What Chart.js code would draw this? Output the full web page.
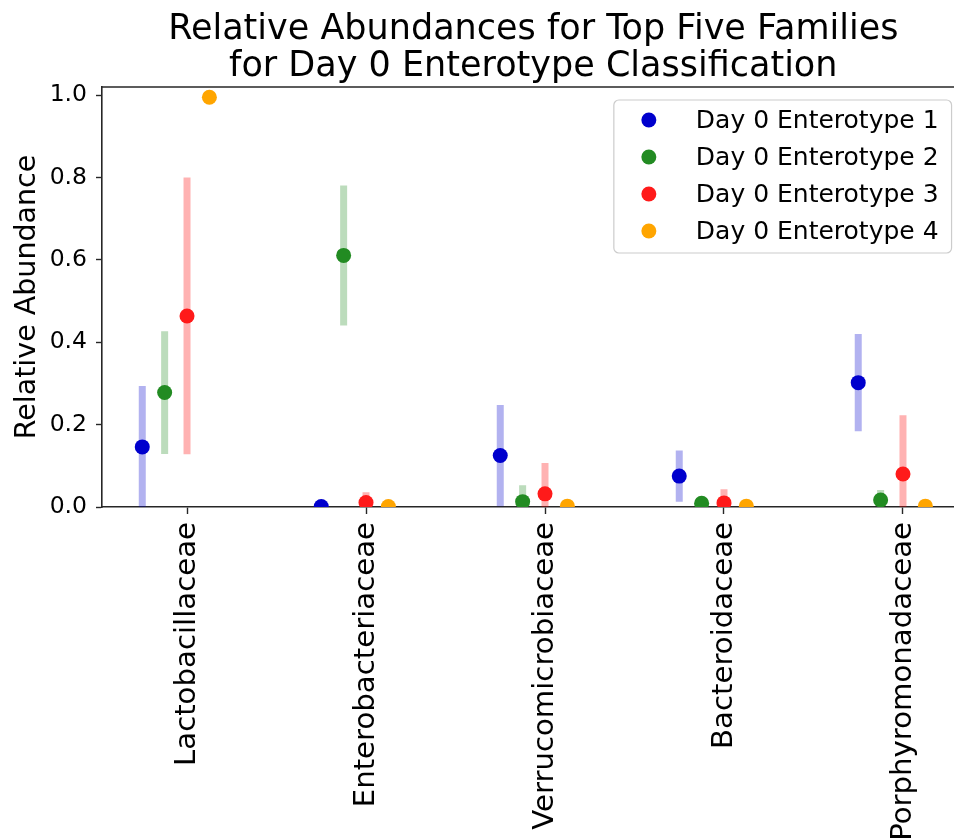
<!DOCTYPE html>
<html>
<head>
<meta charset="utf-8">
<script src="https://cdn.jsdelivr.net/npm/chart.js@4/dist/chart.umd.min.js"></script>
<style>
  html, body { margin: 0; padding: 0; overflow: hidden; background: #fff; }
  canvas { display: block; }
</style>
</head>
<body>
<canvas id="chart" width="954" height="839"></canvas>
<script>
// Families on the x axis
const categories = ['Lactobacillaceae', 'Enterobacteriaceae', 'Verrucomicrobiaceae', 'Bacteroidaceae', 'Porphyromonadaceae'];
const seriesNames = ['Day 0 Enterotype 1', 'Day 0 Enterotype 2', 'Day 0 Enterotype 3', 'Day 0 Enterotype 4'];

// Mean relative abundance per family, one list per enterotype
const meanType1 = [0.146, 0.001, 0.125, 0.075, 0.302];
const meanType2 = [0.278, 0.611, 0.013, 0.009, 0.017];
const meanType3 = [0.464, 0.011, 0.032, 0.010, 0.080];
const meanType4 = [0.995, 0.001, 0.002, 0.002, 0.002];

// Standard deviation per family, one list per enterotype
const sdType1 = [0.148, 0.002, 0.123, 0.062, 0.118];
const sdType2 = [0.149, 0.170, 0.040, 0.012, 0.024];
const sdType3 = [0.336, 0.025, 0.075, 0.033, 0.143];
const sdType4 = [0, 0, 0, 0, 0];

const yTicks = [0.0, 0.2, 0.4, 0.6, 0.8, 1.0];

// ---- styling ----
const FONT = '"DejaVu Sans", "Liberation Sans", sans-serif';
const INK = '#262626';
const pointColors = ['#0000cd', '#228b22', '#ff1a1a', '#ffa500'];
const barColors = ['rgba(0,0,205,0.3)', 'rgba(34,139,34,0.3)', 'rgba(255,0,0,0.3)', 'rgba(255,165,0,0.3)'];
const dodge = [-0.25, -0.125, 0, 0.125];
// the axes frame runs a little past the right edge of the figure
const X_MIN = -0.475;
const X_MAX = 4.344;
const X_VISIBLE_MAX = 4.285;

Chart.defaults.font.family = FONT;
Chart.defaults.color = '#000';

const means = [meanType1, meanType2, meanType3, meanType4];
const sds = [sdType1, sdType2, sdType3, sdType4];

// vertical error bars: one segment per family, broken by null points
const errorBarSets = means.map((m, s) => ({
  type: 'line',
  isErrorBar: true,
  data: m.flatMap((v, i) => [
    { x: i + dodge[s], y: v - sds[s][i] },
    { x: i + dodge[s], y: v + sds[s][i] },
    { x: i + dodge[s], y: null }
  ]),
  borderColor: barColors[s],
  borderWidth: 7,
  borderCapStyle: 'butt',
  pointRadius: 0,
  pointHoverRadius: 0,
  tension: 0,
  fill: false,
  spanGaps: false,
  clip: 0,
  order: 1
}));

const pointSets = means.map((m, s) => ({
  type: 'scatter',
  label: seriesNames[s],
  data: m.map((v, i) => ({ x: i + dodge[s], y: v })),
  backgroundColor: pointColors[s],
  borderColor: pointColors[s],
  borderWidth: 0,
  pointRadius: 7.5,
  pointHoverRadius: 7.5,
  showLine: false,
  clip: 0,
  order: 0
}));

// top spine of the axes frame
const topSpine = {
  id: 'topSpine',
  afterDraw(chart) {
    const { ctx, chartArea: { left, right, top } } = chart;
    ctx.save();
    ctx.strokeStyle = INK;
    ctx.lineWidth = 1.6;
    ctx.beginPath();
    ctx.moveTo(left - 0.8, top);
    ctx.lineTo(right, top);
    ctx.stroke();
    ctx.restore();
  }
};

// boxed legend in the upper right corner of the axes frame
const cornerLegend = {
  id: 'cornerLegend',
  afterDraw(chart) {
    const { ctx, chartArea } = chart;
    const frameRight = chart.scales.x.getPixelForValue(X_MAX);
    const items = chart.data.datasets.filter(d => !d.isErrorBar);
    const rowH = 37;
    ctx.save();
    ctx.font = '25px ' + FONT;
    const textW = Math.max(...items.map(d => ctx.measureText(d.label).width));
    const w = 82 + textW + 13;
    const h = 20 + rowH * (items.length - 1) + 22;
    const right = frameRight - 13;
    const top = chartArea.top + 13;
    const left = right - w;
    ctx.beginPath();
    ctx.roundRect(left, top, w, h, 5);
    ctx.fillStyle = 'rgba(255,255,255,0.8)';
    ctx.fill();
    ctx.strokeStyle = '#cccccc';
    ctx.lineWidth = 1.2;
    ctx.stroke();
    items.forEach((d, i) => {
      const y = top + 20 + i * rowH;
      ctx.beginPath();
      ctx.arc(left + 35, y, 7.5, 0, Math.PI * 2);
      ctx.fillStyle = d.backgroundColor;
      ctx.fill();
      ctx.fillStyle = '#000';
      ctx.textBaseline = 'middle';
      ctx.textAlign = 'left';
      ctx.fillText(d.label, left + 82, y + 1);
    });
    ctx.restore();
  }
};

// title centred over the full axes frame, including the part past the figure edge
const frameTitle = {
  id: 'frameTitle',
  afterDraw(chart) {
    const { ctx, chartArea } = chart;
    const cx = (chartArea.left + chart.scales.x.getPixelForValue(X_MAX)) / 2;
    const lines = ['Relative Abundances for Top Five Families', 'for Day 0 Enterotype Classification'];
    ctx.save();
    ctx.font = '35px ' + FONT;
    ctx.fillStyle = '#000';
    ctx.textAlign = 'center';
    ctx.textBaseline = 'alphabetic';
    lines.forEach((t, i) => ctx.fillText(t, cx, 38.5 + i * 37));
    ctx.restore();
  }
};

new Chart(document.getElementById('chart'), {
  type: 'scatter',
  data: { datasets: [...errorBarSets, ...pointSets] },
  options: {
    responsive: false,
    animation: false,
    events: [],
    layout: { padding: { top: 87, left: 0, right: 0, bottom: 0 }, autoPadding: false },
    plugins: {
      legend: { display: false },
      tooltip: { enabled: false },
      title: { display: false }
    },
    scales: {
      x: {
        type: 'linear',
        min: X_MIN,
        max: X_VISIBLE_MAX,
        z: 1,
        afterBuildTicks: axis => { axis.ticks = categories.map((_, i) => ({ value: i })); },
        afterFit: axis => {
          axis.height = 332;
          axis.paddingLeft = 0;
          axis.paddingRight = 0;
        },
        ticks: {
          callback: v => categories[v],
          autoSkip: false,
          minRotation: 90,
          maxRotation: 90,
          padding: 8,
          color: '#000',
          font: { size: 29.2 }
        },
        grid: { display: true, drawOnChartArea: false, drawTicks: true, tickLength: 7, tickWidth: 1.4, tickColor: INK },
        border: { display: true, color: INK, width: 1.6 }
      },
      y: {
        type: 'linear',
        min: 0,
        max: 1.02,
        z: 1,
        afterBuildTicks: axis => { axis.ticks = yTicks.map(v => ({ value: v })); },
        afterFit: axis => {
          axis.width = 102;
          axis.paddingTop = 0;
          axis.paddingBottom = 0;
        },
        ticks: {
          callback: v => v.toFixed(1),
          padding: 9,
          color: '#000',
          font: { size: 23.5 }
        },
        grid: { display: true, drawOnChartArea: false, drawTicks: true, tickLength: 6, tickWidth: 1.4, tickColor: INK },
        border: { display: true, color: INK, width: 1.6 },
        title: {
          display: true,
          text: 'Relative Abundance',
          color: '#000',
          font: { size: 28.5 },
          padding: { top: 10, bottom: 0 }
        }
      }
    }
  },
  plugins: [topSpine, cornerLegend, frameTitle]
});
</script>
</body>
</html>
